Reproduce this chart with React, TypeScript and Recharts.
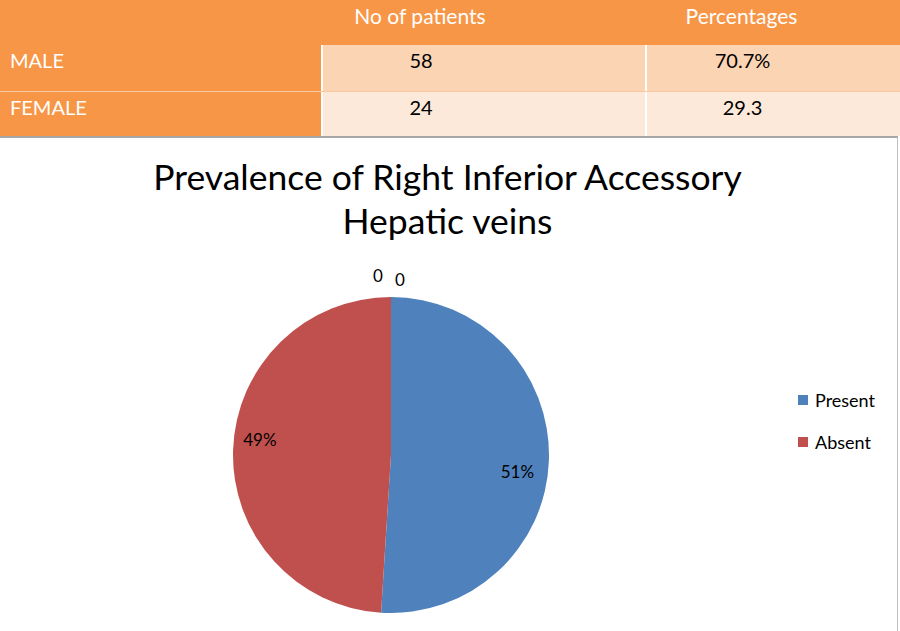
import { PieChart, Pie, Cell, Legend } from 'recharts';

const tableHeaders = ['', 'No of patients', 'Percentages'];
const genders = ['MALE', 'FEMALE'];
const patientCounts = ['58', '24'];
const genderPercents = ['70.7%', '29.3'];

const categories = ['Present', 'Absent', '', ''];
const values = [51, 49, 0, 0];
const colors = ['#4F81BD', '#C0504D', '#9BBB59', '#8064A2'];

const pieData = categories.map((name, i) => ({ name, value: values[i] }));

const RADIAN = Math.PI / 180;
const font = 'Lato, "Open Sans", sans-serif';

const colWidths = [321, 324, 255];
const colPadRight = [0, 126, 62];
const rowBg = ['#FBD4B4', '#FDE9D9'];

function renderLabel(props: any) {
  const { cx, cy, midAngle, outerRadius, percent, value, index } = props;
  if (value === 0) {
    const r = outerRadius + 22;
    const x = cx + r * Math.cos(-midAngle * RADIAN) + (index === 2 ? -13 : 9);
    const y = cy + r * Math.sin(-midAngle * RADIAN) + (index === 3 ? 4 : 0);
    return (
      <text x={x} y={y} fill="#000" fontSize={17} textAnchor="middle" dominantBaseline="central" fontFamily={font}>
        0
      </text>
    );
  }
  const r = outerRadius * (index === 0 ? 0.8 : 0.83);
  const x = cx + r * Math.cos(-midAngle * RADIAN);
  const y = cy + r * Math.sin(-midAngle * RADIAN) + (index === 0 ? 13 : -11);
  return (
    <text x={x} y={y} fill="#000" fontSize={17} textAnchor="middle" dominantBaseline="central" fontFamily={font}>
      {`${Math.round(percent * 100)}%`}
    </text>
  );
}

function renderLegend(props: any) {
  const items = (props.payload || [])
    .filter((p: any) => p.value)
    .sort((a: any, b: any) => categories.indexOf(a.value) - categories.indexOf(b.value));
  return (
    <div style={{ fontFamily: font, fontSize: 18 }}>
      {items.map((item: any) => (
        <div key={item.value} style={{ display: 'flex', alignItems: 'center', height: 42 }}>
          <span style={{ width: 10, height: 10, background: item.color, display: 'inline-block', marginRight: 7 }} />
          <span>{item.value}</span>
        </div>
      ))}
    </div>
  );
}

export default function App() {
  return (
    <div style={{ position: 'absolute', left: 0, top: 0, width: 900, height: 631, background: '#fff', fontFamily: font }}>
      {/* Table */}
      <div style={{ position: 'absolute', left: 0, top: 0, width: 900, height: 136, background: '#F79646' }}>
        <div style={{ display: 'flex', height: 45 }}>
          {tableHeaders.map((h, i) => (
            <div key={i} style={{ width: colWidths[i], paddingRight: colPadRight[i], boxSizing: 'border-box', textAlign: 'center', color: '#fff', fontSize: 21, lineHeight: '32px' }}>
              {h}
            </div>
          ))}
        </div>
        {genders.map((g, r) => (
          <div key={g} style={{ display: 'flex', height: r === 0 ? 46 : 45, borderTop: r === 1 ? '1px solid #FBC9A1' : 'none', boxSizing: 'border-box' }}>
            <div style={{ width: colWidths[0], color: '#fff', fontSize: 20, paddingLeft: 10, lineHeight: '30px', boxSizing: 'border-box' }}>
              {g}
            </div>
            <div style={{ width: colWidths[1], paddingRight: colPadRight[1], background: rowBg[r], borderLeft: '2px solid #fff', boxSizing: 'border-box', textAlign: 'center', fontSize: 20, lineHeight: '30px' }}>
              {patientCounts[r]}
            </div>
            <div style={{ width: colWidths[2], paddingRight: colPadRight[2], background: rowBg[r], borderLeft: '2px solid #fff', boxSizing: 'border-box', textAlign: 'center', fontSize: 20, lineHeight: '30px' }}>
              {genderPercents[r]}
            </div>
          </div>
        ))}
      </div>

      {/* Chart frame */}
      <div style={{ position: 'absolute', left: 0, top: 136, width: 898, height: 495, borderTop: '2px solid #A6A6A6', borderRight: '1px solid #BFBFBF', boxSizing: 'border-box' }}>
        <div style={{ position: 'absolute', left: 0, width: 895, top: 17, textAlign: 'center', fontSize: 35.5, lineHeight: '44px', color: '#000' }}>
          Prevalence of Right Inferior Accessory
          <br />
          Hepatic veins
        </div>
        <div style={{ position: 'absolute', left: 0, top: 0 }}>
          <PieChart width={896} height={493} margin={{ top: 0, right: 0, bottom: 0, left: 0 }}>
            <Pie
              data={pieData}
              dataKey="value"
              nameKey="name"
              cx={391}
              cy={317}
              outerRadius={158}
              startAngle={90}
              endAngle={-270}
              stroke="none"
              label={renderLabel}
              labelLine={false}
              isAnimationActive={false}
            >
              {pieData.map((d, i) => (
                <Cell key={i} fill={colors[i]} />
              ))}
            </Pie>
            <Legend
              layout="vertical"
              verticalAlign="top"
              align="right"
              content={renderLegend}
              wrapperStyle={{ left: 798, top: 241, width: 100 }}
            />
          </PieChart>
        </div>
      </div>
    </div>
  );
}
